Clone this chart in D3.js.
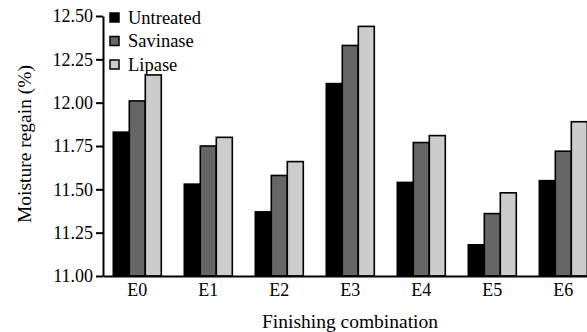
<!DOCTYPE html>
<html><head><meta charset="utf-8">
<script src="https://cdn.jsdelivr.net/npm/d3@7"></script>
<style>
html,body{margin:0;padding:0;background:#fff;}
svg{display:block;}
svg text{font-family:"Liberation Serif","Times New Roman",serif !important;fill:#000;}
</style></head>
<body><svg id="c" width="587" height="332"></svg>
<script>
const categories = ["E0","E1","E2","E3","E4","E5","E6"];
const seriesNames = ["Untreated","Savinase","Lipase"];
const untreated = [11.83,11.53,11.37,12.11,11.54,11.18,11.55];
const savinase  = [12.01,11.75,11.58,12.33,11.77,11.36,11.72];
const lipase    = [12.16,11.80,11.66,12.44,11.81,11.48,11.89];
const yTicks = [11.00,11.25,11.50,11.75,12.00,12.25,12.50];
const colors = ["#000000","#666666","#cccccc"];

const series = [untreated, savinase, lipase];
const svg = d3.select("#c");
const x0 = 103, yTop = 16, yBot = 276;

const x = d3.scaleBand().domain(categories).range([x0, 597.6]).paddingInner(0.324).paddingOuter(0.145);
const xs = d3.scaleBand().domain(seriesNames).range([0, x.bandwidth()]);
const y = d3.scaleLinear().domain([11, 12.5]).range([yBot, yTop]);

const data = [];
categories.forEach((c,i)=>seriesNames.forEach((s,j)=>data.push({c, s, j, v: series[j][i]})));

svg.append("g").selectAll("rect").data(data).join("rect")
  .attr("x", d=>x(d.c)+xs(d.s))
  .attr("y", d=>y(d.v))
  .attr("width", xs.bandwidth())
  .attr("height", d=>y(11)-y(d.v))
  .attr("fill", d=>colors[d.j])
  .attr("stroke", "#000").attr("stroke-width", 1.6);

// y axis
const ya = svg.append("g").attr("transform", `translate(${x0},0)`)
  .call(d3.axisLeft(y).tickValues(yTicks).tickFormat(d3.format(".2f")).tickSize(7).tickSizeOuter(0));
ya.attr("font-family", null);
ya.select(".domain").attr("stroke","#000").attr("stroke-width",2);
ya.selectAll(".tick line").attr("stroke","#000").attr("stroke-width",2);
ya.selectAll(".tick text").style("font-size","18px").attr("x",-10);

// x axis
const xa = svg.append("g").attr("transform", `translate(0,${yBot})`)
  .call(d3.axisBottom(x).tickSize(0).tickSizeOuter(0));
xa.attr("font-family", null);
xa.select(".domain").attr("stroke","#000").attr("stroke-width",2);
xa.selectAll(".tick text").style("font-size","18px").attr("dy","0.71em").attr("y",7);

// axis titles
svg.append("text").attr("x",350).attr("y",328).attr("text-anchor","middle")
  .style("font-size","19.5px").text("Finishing combination");
svg.append("text").attr("transform","translate(31,144) rotate(-90)").attr("text-anchor","middle")
  .style("font-size","19.5px").text("Moisture regain (%)");

// legend
const lg = svg.append("g").selectAll("g").data(seriesNames).join("g")
  .attr("transform",(d,i)=>`translate(110,${13+i*23.5})`);
lg.append("rect").attr("width",9).attr("height",9).attr("fill",(d,i)=>colors[i]).attr("stroke","#000").attr("stroke-width",1.5);
lg.append("text").attr("x",18).attr("y",4.5).attr("dy","0.35em").style("font-size","18.5px").text(d=>d);
</script></body></html>
